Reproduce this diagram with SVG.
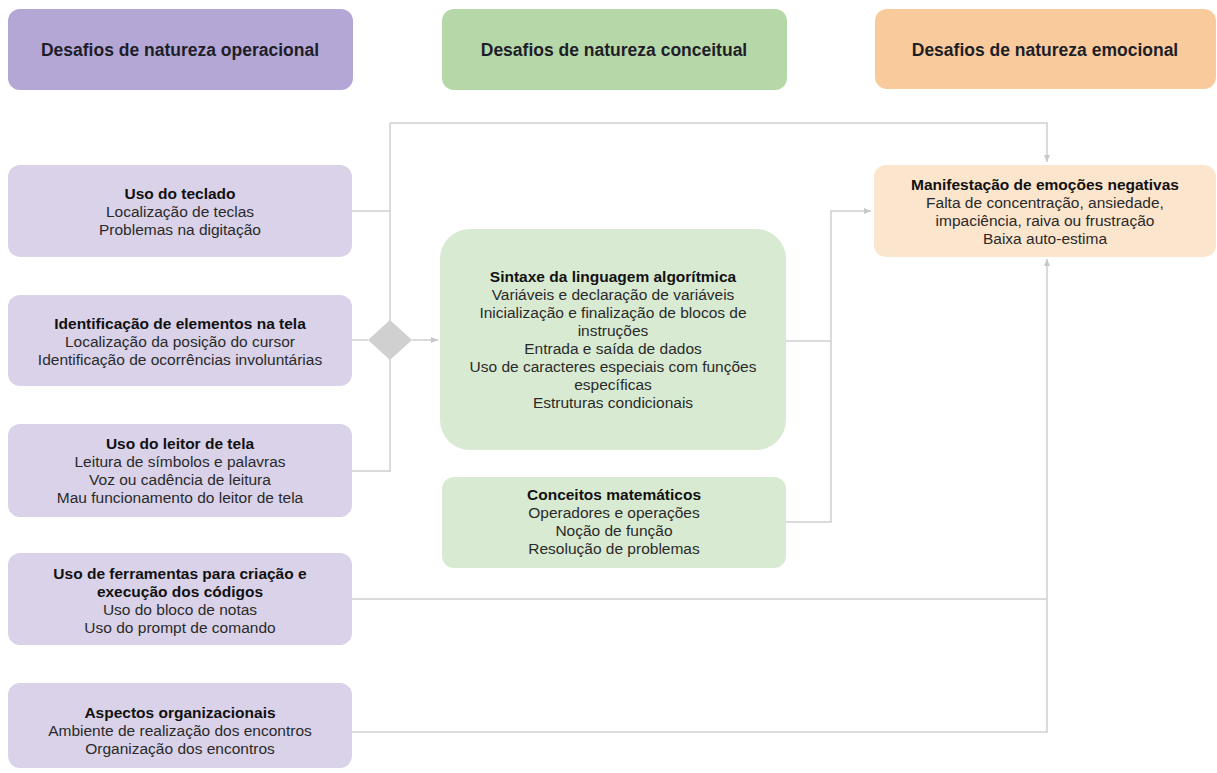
<svg xmlns="http://www.w3.org/2000/svg" width="1217" height="773" viewBox="0 0 1217 773">
<style>
.hd{font-family:"Liberation Sans",Arial,sans-serif;font-size:17.5px;font-weight:bold;fill:#1e1e28;text-anchor:middle}
.t{font-family:"Liberation Sans",Arial,sans-serif;font-size:15.5px;fill:#2a2a2a;text-anchor:middle}
.b{font-weight:bold;fill:#111}
.op{fill:#b4a7d6}.opl{fill:#d9d2e9}
.co{fill:#b6d7a8}.col{fill:#d9ead3}
.em{fill:#f9cb9c}.eml{fill:#fce5cd}
.ln{fill:none;stroke:#cfcfcf;stroke-width:1.5}
</style>
<defs>
<marker id="ah" markerWidth="8" markerHeight="8" refX="7" refY="4" orient="auto" markerUnits="userSpaceOnUse">
<path d="M0,1 L7,4 L0,7 Z" fill="#c8c8c8"/>
</marker>
</defs>
<rect width="1217" height="773" fill="#ffffff"/>

<g id="connectors">
<path class="ln" d="M390,123 H1047 V162" marker-end="url(#ah)"/>
<path class="ln" d="M390,123 V471 H352"/>
<path class="ln" d="M352,211 H390"/>
<path class="ln" d="M352,340 H368"/>
<path class="ln" d="M412,340 H438" marker-end="url(#ah)"/>
<path class="ln" d="M786,341 H831"/>
<path class="ln" d="M786,522 H831 V211 H871" marker-end="url(#ah)"/>
<path class="ln" d="M352,599 H1047"/>
<path class="ln" d="M352,732 H1047 V259" marker-end="url(#ah)"/>
</g>

<g id="decision">
<path d="M390,320 L412,340 L390,360 L368,340 Z" fill="#d0d0d0"/>
</g>

<g id="h-operacional">
<rect class="op" x="8" y="9" width="345" height="81" rx="12"/>
<text class="hd" x="180" y="56">Desafios de natureza operacional</text>
</g>
<g id="h-conceitual">
<rect class="co" x="442" y="9" width="345" height="81" rx="12"/>
<text class="hd" x="614" y="56">Desafios de natureza conceitual</text>
</g>
<g id="h-emocional">
<rect class="em" x="875" y="9" width="341" height="80" rx="12"/>
<text class="hd" x="1045" y="56">Desafios de natureza emocional</text>
</g>

<g id="teclado">
<rect class="opl" x="8" y="165" width="344" height="92" rx="12"/>
<text class="t" x="180" y="198.5"><tspan class="b">Uso do teclado</tspan><tspan x="180" dy="18.3">Localização de teclas</tspan><tspan x="180" dy="18.3">Problemas na digitação</tspan></text>
</g>

<g id="identificacao">
<rect class="opl" x="8" y="295" width="344" height="91" rx="12"/>
<text class="t" x="180" y="328.5"><tspan class="b">Identificação de elementos na tela</tspan><tspan x="180" dy="18.3">Localização da posição do cursor</tspan><tspan x="180" dy="18.3">Identificação de ocorrências involuntárias</tspan></text>
</g>

<g id="leitor">
<rect class="opl" x="8" y="424" width="344" height="93" rx="12"/>
<text class="t" x="180" y="448.5"><tspan class="b">Uso do leitor de tela</tspan><tspan x="180" dy="18.3">Leitura de símbolos e palavras</tspan><tspan x="180" dy="18.3">Voz ou cadência de leitura</tspan><tspan x="180" dy="18.3">Mau funcionamento do leitor de tela</tspan></text>
</g>

<g id="ferramentas">
<rect class="opl" x="8" y="553" width="344" height="92" rx="12"/>
<text class="t" x="180" y="578.5"><tspan class="b">Uso de ferramentas para criação e</tspan><tspan class="b" x="180" dy="18.3">execução dos códigos</tspan><tspan x="180" dy="18.3">Uso do bloco de notas</tspan><tspan x="180" dy="18.3">Uso do prompt de comando</tspan></text>
</g>

<g id="aspectos">
<rect class="opl" x="8" y="683" width="344" height="85" rx="12"/>
<text class="t" x="180" y="717.5"><tspan class="b">Aspectos organizacionais</tspan><tspan x="180" dy="18.3">Ambiente de realização dos encontros</tspan><tspan x="180" dy="18.3">Organização dos encontros</tspan></text>
</g>

<g id="sintaxe">
<rect class="col" x="440" y="229" width="346" height="221" rx="30"/>
<text class="t" x="613" y="282"><tspan class="b">Sintaxe da linguagem algorítmica</tspan><tspan x="613" dy="18">Variáveis e declaração de variáveis</tspan><tspan x="613" dy="18">Inicialização e finalização de blocos de</tspan><tspan x="613" dy="18">instruções</tspan><tspan x="613" dy="18">Entrada e saída de dados</tspan><tspan x="613" dy="18">Uso de caracteres especiais com funções</tspan><tspan x="613" dy="18">específicas</tspan><tspan x="613" dy="18">Estruturas condicionais</tspan></text>
</g>

<g id="matematicos">
<rect class="col" x="442" y="477" width="344" height="91" rx="12"/>
<text class="t" x="614" y="500"><tspan class="b">Conceitos matemáticos</tspan><tspan x="614" dy="18">Operadores e operações</tspan><tspan x="614" dy="18">Noção de função</tspan><tspan x="614" dy="18">Resolução de problemas</tspan></text>
</g>

<g id="emocoes">
<rect class="eml" x="874" y="165" width="342" height="92" rx="12"/>
<text class="t" x="1045" y="189.5"><tspan class="b">Manifestação de emoções negativas</tspan><tspan x="1045" dy="18">Falta de concentração, ansiedade,</tspan><tspan x="1045" dy="18">impaciência, raiva ou frustração</tspan><tspan x="1045" dy="18">Baixa auto-estima</tspan></text>
</g>
</svg>
